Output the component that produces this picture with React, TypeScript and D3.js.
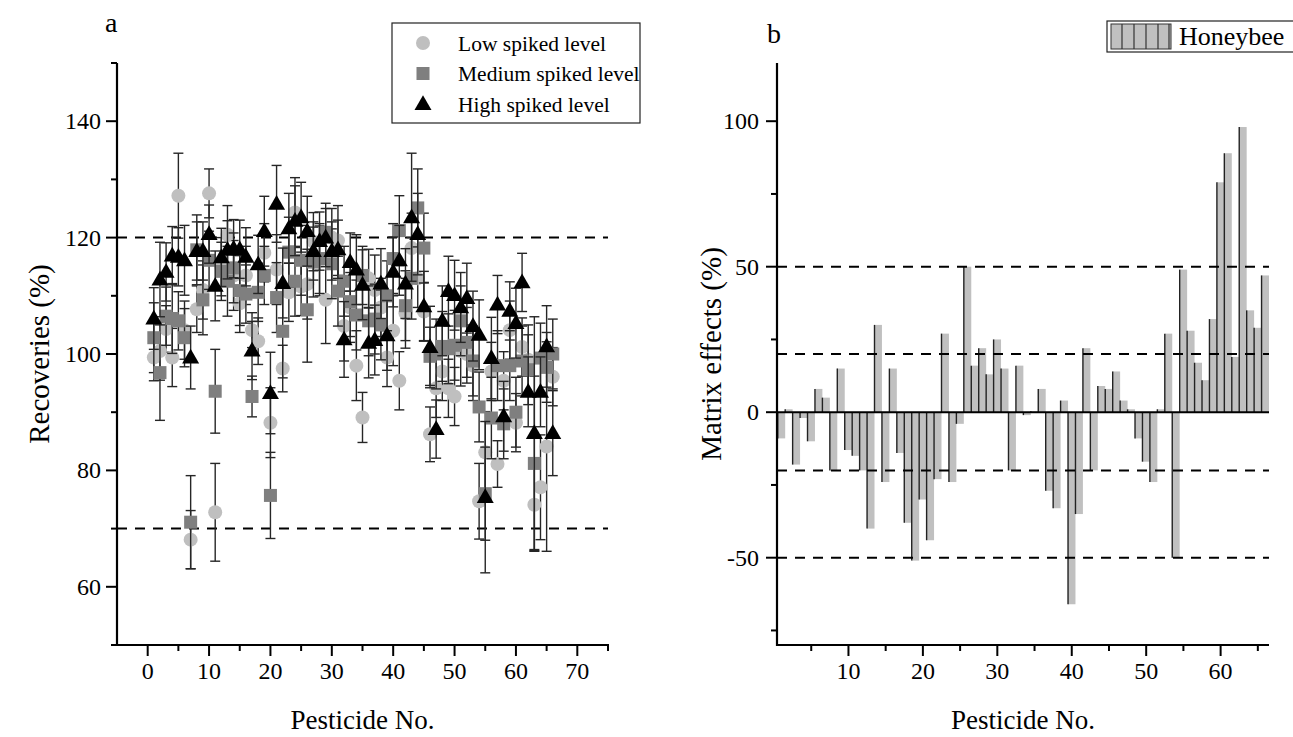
import React from "react";
import { scaleLinear, symbol, symbolTriangle, range } from "d3";

// ---- data ----
const pesticideNo = range(1, 67);

const lowLevel = [
  99.4, 100.5, 104.3, 99.4, 127.2, 104.1, 68.1, 107.7, 111, 127.6,
  72.8, 115, 120.5, 113.5, 108.7, 113.5, 104.1, 102.2, 117.4, 88.2,
  114.5, 97.5, 110.6, 124.3, 111.6, 112, 119.3, 116, 109.3, 120,
  119.5, 104.8, 108, 98, 89.1, 113, 111, 108, 99.4, 104,
  95.4, 107, 118.2, 113, 107.3, 86.2, 94.1, 97, 94.1, 92.7,
  100.5, 100, 98, 74.7, 83.1, 97, 81.1, 95.4, 104.1, 88.2,
  101.2, 99, 74.1, 77.1, 84.1, 96.1,
];
const lowSd = [
  4, 5, 4, 5, 7.3, 5, 5, 4, 5, 4.2,
  8.4, 5, 5, 6, 5, 5, 3, 4, 5, 6,
  6, 4, 5, 6, 5, 6, 5, 6, 7.5, 5,
  6, 6, 6, 6, 4.3, 5, 6, 5, 5, 6,
  5, 6, 6, 5, 5, 4.7, 5, 5, 5, 5,
  6, 5, 6, 6.5, 7, 5, 4, 5, 5, 5,
  5, 6, 8, 9, 18, 5,
];

const mediumLevel = [
  102.8, 96.8, 106.5, 106.1, 105.7, 102.8, 71.1, 117.9, 109.3, 116.1,
  93.6, 114.2, 112.5, 114.8, 110.9, 110.3, 92.7, 110.6, 113.5, 75.7,
  109.7, 103.9, 117.5, 112.5, 116.1, 107.6, 115.8, 116.4, 120.9, 115.5,
  110.8, 112.5, 109, 106.7, 113.5, 105.7, 106, 105, 110, 116.4,
  121.2, 108.3, 113, 125.1, 118.2, 99.6, 100, 101.3, 100.9, 101.5,
  105.7, 102, 98.8, 90.9, 76, 89, 98, 88, 98, 90,
  98.8, 97.3, 81.2, 99.3, 97.7, 100,
];
const mediumSd = [
  6, 8.2, 5, 6, 5, 5, 8, 6, 6, 5,
  7.2, 5, 6, 6, 6, 5, 3.5, 5, 5, 7.4,
  6, 8, 6, 6, 6, 9, 6, 6, 5, 6,
  6, 6, 6, 6, 5, 6, 6, 6, 6, 6,
  6, 6, 7, 6.7, 6, 5, 6, 6, 6, 6,
  6, 6, 6, 6, 8, 7, 6, 6, 6, 6,
  6, 6, 15, 6, 6, 6,
];

const highLevel = [
  106.1, 112.8, 114.1, 116.9, 116.7, 116.1, 99.4, 117.7, 117.7, 120.6,
  111.7, 116.6, 117.9, 118.1, 118, 116.7, 100.6, 115.4, 121.1, 93.3,
  125.8, 112.2, 121.6, 122.9, 123.5, 121.1, 117.7, 119.4, 120, 117.7,
  118, 102.5, 115.8, 114.5, 111.9, 101.9, 102.4, 112.1, 103.2, 114.1,
  116.1, 112.1, 123.5, 120.6, 108.2, 101.2, 87.1, 105.7, 110.8, 110.1,
  108, 109.6, 104.8, 103.3, 75.4, 99.3, 108.5, 89.3, 107.4, 105.3,
  112.3, 93.5, 86.4, 93.5, 101.3, 86.4,
];
const highSd = [
  5.3, 6.4, 5, 5, 5, 6, 5.4, 5, 5, 5,
  6, 5, 5, 5, 5, 5, 5, 5, 6, 7,
  6.6, 6, 6, 6, 6, 6, 5, 5, 5, 5,
  5, 6.5, 5, 6, 6, 6, 6, 6, 6, 6,
  6, 6, 11, 7, 6, 7, 5, 6, 6, 6,
  6, 6, 6, 6, 13, 7, 5, 6, 5, 6,
  5, 6, 20, 6, 7, 7.3,
];

const matrixEffects = [
  -9, 1, -18, -2, -10, 8, 5, -20, 15, -13,
  -15, -20, -40, 30, -24, 15, -14, -38, -51, -30,
  -44, -23, 27, -24, -4, 50, 16, 22, 13, 25,
  15, -20, 16, -1, 0.3, 8, -27, -33, 4, -66,
  -35, 22, -20, 9, 8, 14, 4, 1, -9, -17,
  -24, 1, 27, -50, 49, 28, 17, 11, 32, 79,
  89, 19, 98, 35, 29, 47,
];

const recoveryTicks = [60, 80, 100, 120, 140];
const recoveryMinor = [50, 70, 90, 110, 130, 150];
const recoveryLimits = [70, 120];
const noTicksA = [0, 10, 20, 30, 40, 50, 60, 70];
const noMinorA = [5, 15, 25, 35, 45, 55, 65, 75];
const matrixTicks = [-50, 0, 50, 100];
const matrixMinor = [-75, -25, 25, 75];
const matrixLimits = [-50, -20, 20, 50];
const noTicksB = [10, 20, 30, 40, 50, 60];
const noMinorB = [5, 15, 25, 35, 45, 55, 65];

const series = [
  { name: "Low spiked level", values: lowLevel, sd: lowSd, shape: "circle", color: "#bfbfbf" },
  { name: "Medium spiked level", values: mediumLevel, sd: mediumSd, shape: "square", color: "#7f7f7f" },
  { name: "High spiked level", values: highLevel, sd: highSd, shape: "triangle", color: "#000000" },
];

const FONT = "'Liberation Serif', 'Times New Roman', serif";

function Marker({ shape, color, x, y }) {
  if (shape === "circle") return <circle cx={x} cy={y} r={7} fill={color} />;
  if (shape === "square") return <rect x={x - 6.5} y={y - 6.5} width={13} height={13} fill={color} />;
  const tri = symbol().type(symbolTriangle).size(125)();
  return <path d={tri} transform={`translate(${x},${y + 1})`} fill={color} />;
}

function App() {
  const xA = scaleLinear().domain([-5, 75]).range([117, 608]);
  const yA = scaleLinear().domain([50, 150]).range([645, 63]);
  const xB = scaleLinear().domain([0.4, 66.5]).range([777, 1269]);
  const yB = scaleLinear().domain([-80, 120]).range([645, 63]);

  const axisColor = "#000";

  return (
    <svg width={1293} height={737} style={{ position: "absolute", left: 0, top: 0, background: "#fff" }} fontFamily={FONT}>
      {/* ---------- panel a ---------- */}
      <text x={105} y={32} fontSize={28}>a</text>

      {recoveryLimits.map((v) => (
        <line key={v} x1={xA(-5)} x2={xA(75)} y1={yA(v)} y2={yA(v)} stroke="#000" strokeWidth={2} strokeDasharray="10,8" />
      ))}

      {series.map((s) => (
        <g key={s.name}>
          {s.values.map((v, i) => {
            const x = xA(pesticideNo[i]);
            return (
              <g key={i} stroke="#262626" strokeWidth={1.4}>
                <line x1={x} x2={x} y1={yA(v - s.sd[i])} y2={yA(v + s.sd[i])} />
                <line x1={x - 5} x2={x + 5} y1={yA(v - s.sd[i])} y2={yA(v - s.sd[i])} />
                <line x1={x - 5} x2={x + 5} y1={yA(v + s.sd[i])} y2={yA(v + s.sd[i])} />
              </g>
            );
          })}
          {s.values.map((v, i) => (
            <Marker key={i} shape={s.shape} color={s.color} x={xA(pesticideNo[i])} y={yA(v)} />
          ))}
        </g>
      ))}

      {/* axes a */}
      <line x1={117} x2={117} y1={yA(150)} y2={yA(50) + 1} stroke={axisColor} strokeWidth={2.2} />
      <line x1={116} x2={xA(75) + 1} y1={yA(50)} y2={yA(50)} stroke={axisColor} strokeWidth={2.2} />
      {recoveryTicks.map((t) => (
        <g key={t}>
          <line x1={106} x2={117} y1={yA(t)} y2={yA(t)} stroke={axisColor} strokeWidth={2} />
          <text x={101} y={yA(t) + 8} fontSize={24} textAnchor="end">{t}</text>
        </g>
      ))}
      {recoveryMinor.map((t) => (
        <line key={t} x1={111} x2={117} y1={yA(t)} y2={yA(t)} stroke={axisColor} strokeWidth={2} />
      ))}
      {noTicksA.map((t) => (
        <g key={t}>
          <line x1={xA(t)} x2={xA(t)} y1={645} y2={656} stroke={axisColor} strokeWidth={2} />
          <text x={xA(t)} y={679} fontSize={24} textAnchor="middle">{t}</text>
        </g>
      ))}
      {noMinorA.map((t) => (
        <line key={t} x1={xA(t)} x2={xA(t)} y1={645} y2={651} stroke={axisColor} strokeWidth={2} />
      ))}
      <text x={xA(35)} y={729} fontSize={27} textAnchor="middle">Pesticide No.</text>
      <text transform={`translate(49,${yA(100)}) rotate(-90)`} fontSize={29} textAnchor="middle">Recoveries (%)</text>

      {/* legend a */}
      <rect x={392} y={23} width={248} height={100} fill="#fff" stroke="#222" strokeWidth={1.2} />
      {series.map((s, i) => (
        <g key={s.name}>
          <Marker shape={s.shape} color={s.color} x={423} y={43 + i * 30.5} />
          <text x={458} y={43 + i * 30.5 + 7.5} fontSize={21.5}>{s.name}</text>
        </g>
      ))}

      {/* ---------- panel b ---------- */}
      <text x={767} y={43} fontSize={28}>b</text>

      {matrixEffects.map((v, i) => {
        const x0 = xB(pesticideNo[i] - 0.5);
        const x1 = xB(pesticideNo[i] + 0.5);
        const yTop = yB(Math.max(v, 0));
        const yBot = yB(Math.min(v, 0));
        return (
          <g key={i}>
            <rect x={x0} y={yTop} width={x1 - x0} height={yBot - yTop} fill="#c0c0c0" />
            <line x1={x0} x2={x0} y1={yTop} y2={yBot} stroke="#222" strokeWidth={1.4} />
          </g>
        );
      })}

      {matrixLimits.map((v) => (
        <line key={v} x1={xB(0.4)} x2={xB(66.5)} y1={yB(v)} y2={yB(v)} stroke="#000" strokeWidth={2} strokeDasharray="10,8" />
      ))}
      <line x1={xB(0.4)} x2={xB(66.5)} y1={yB(0)} y2={yB(0)} stroke="#000" strokeWidth={2} />

      {/* axes b */}
      <line x1={777} x2={777} y1={yB(120)} y2={yB(-80) + 1} stroke={axisColor} strokeWidth={2.2} />
      <line x1={776} x2={xB(66.5)} y1={yB(-80)} y2={yB(-80)} stroke={axisColor} strokeWidth={2.2} />
      {matrixTicks.map((t) => (
        <g key={t}>
          <line x1={766} x2={777} y1={yB(t)} y2={yB(t)} stroke={axisColor} strokeWidth={2} />
          <text x={759} y={yB(t) + 8} fontSize={24} textAnchor="end">{t}</text>
        </g>
      ))}
      {matrixMinor.map((t) => (
        <line key={t} x1={771} x2={777} y1={yB(t)} y2={yB(t)} stroke={axisColor} strokeWidth={2} />
      ))}
      {noTicksB.map((t) => (
        <g key={t}>
          <line x1={xB(t)} x2={xB(t)} y1={645} y2={656} stroke={axisColor} strokeWidth={2} />
          <text x={xB(t)} y={679} fontSize={24} textAnchor="middle">{t}</text>
        </g>
      ))}
      {noMinorB.map((t) => (
        <line key={t} x1={xB(t)} x2={xB(t)} y1={645} y2={651} stroke={axisColor} strokeWidth={2} />
      ))}
      <text x={(777 + 1269) / 2} y={729} fontSize={27} textAnchor="middle">Pesticide No.</text>
      <text transform={`translate(721,${yB(20)}) rotate(-90)`} fontSize={29} textAnchor="middle">Matrix effects (%)</text>

      {/* legend b */}
      <rect x={1107} y={21} width={190} height={31} fill="#fff" stroke="#222" strokeWidth={1.2} />
      <rect x={1111} y={24} width={60} height={25} fill="#c0c0c0" stroke="#333" strokeWidth={1} />
      {[1122, 1134, 1146, 1158, 1169].map((lx) => (
        <line key={lx} x1={lx} x2={lx} y1={24} y2={49} stroke="#333" strokeWidth={1.2} />
      ))}
      <text x={1179} y={45} fontSize={26}>Honeybee</text>
    </svg>
  );
}

export default App;
